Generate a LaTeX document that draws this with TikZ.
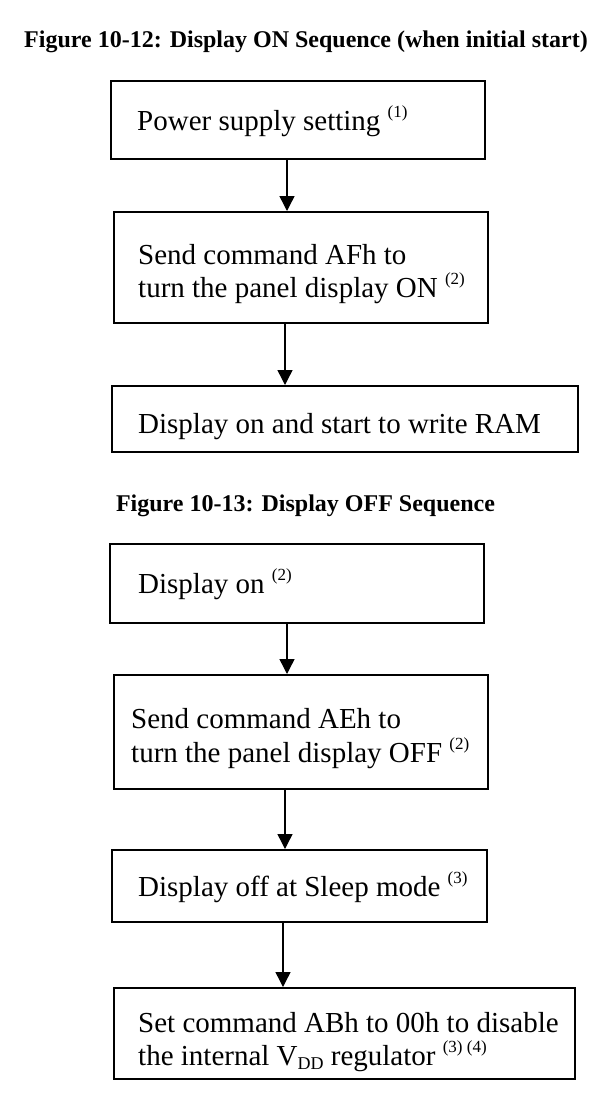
\documentclass[tikz,border=0pt]{standalone}
\usepackage{fontspec}
\setmainfont{Liberation Serif}
\usetikzlibrary{arrows.meta}
\newcommand{\supnote}[1]{\raisebox{13pt}{\fontsize{17}{17}\selectfont #1}}
\newcommand{\subnote}[1]{\raisebox{-4pt}{\fontsize{18}{18}\selectfont #1}}
\begin{document}
\begin{tikzpicture}[x=1pt,y=-1pt,
  box/.style={draw, line width=1.6pt, rectangle, inner sep=0pt, anchor=north west},
  txt/.style={font=\fontsize{29}{33}\selectfont, inner sep=0pt, anchor=base west, align=left},
  ttl/.style={font=\fontsize{24}{28}\selectfont\bfseries, inner sep=0pt, anchor=base},
  arr/.style={line width=1.4pt, -{Triangle[width=15pt,length=15pt]}}]
\useasboundingbox[fill=white] (0,0) rectangle (604,1104);

% titles
\node[ttl] (title1) at (306,47) {Figure 10-12: Display ON Sequence (when initial start)};
\node[ttl] (title2) at (305.5,511) {Figure 10-13: Display OFF Sequence};

% boxes
\node[box, minimum width=374pt, minimum height=78pt] (b1) at (110,80) {};
\node[box, minimum width=374pt, minimum height=111pt] (b2) at (113,211) {};
\node[box, minimum width=466pt, minimum height=66pt] (b3) at (111,385) {};
\node[box, minimum width=374pt, minimum height=79pt] (b4) at (109,543) {};
\node[box, minimum width=374pt, minimum height=114pt] (b5) at (113,674) {};
\node[box, minimum width=375pt, minimum height=72pt] (b6) at (111,849) {};
\node[box, minimum width=461pt, minimum height=91pt] (b7) at (113,987) {};

% texts (multi-line nodes are placed by the baseline of their last line)
\node[txt] (t1) at (137,130) {Power supply setting \supnote{(1)}};
\node[txt] (t2) at (138,297) {Send command AFh to\\turn the panel display ON \supnote{(2)}};
\node[txt] (t3) at (138,433) {Display on and start to write RAM};
\node[txt] (t4) at (138,593) {Display on \supnote{(2)}};
\node[txt, font=\fontsize{29}{34}\selectfont] (t5) at (131,762) {Send command AEh to\\turn the panel display OFF \supnote{(2)}};
\node[txt] (t6) at (138,896) {Display off at Sleep mode \supnote{(3)}};
\node[txt] (t7) at (138,1065) {Set command ABh to 00h to disable\\the internal V\subnote{DD} regulator \supnote{(3) (4)}};

% arrow columns
\coordinate (a1) at (287,0);
\coordinate (a2) at (285,0);
\coordinate (a3) at (287,0);
\coordinate (a4) at (285,0);
\coordinate (a5) at (283,0);

\draw[arr] (b1.south -| a1) -- (b2.north -| a1);
\draw[arr] (b2.south -| a2) -- (b3.north -| a2);
\draw[arr] (b4.south -| a3) -- (b5.north -| a3);
\draw[arr] (b5.south -| a4) -- (b6.north -| a4);
\draw[arr] (b6.south -| a5) -- (b7.north -| a5);
\end{tikzpicture}
\end{document}
